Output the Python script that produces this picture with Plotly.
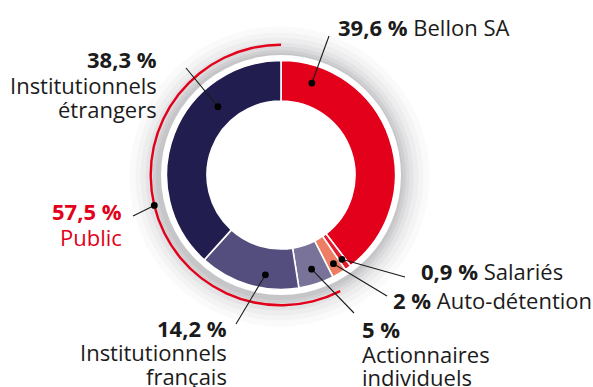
import math
import plotly.graph_objects as go

# Shareholding structure
holders = ["Bellon SA", "Salariés", "Auto-détention", "Actionnaires individuels",
           "Institutionnels français", "Institutionnels étrangers"]
shares = [39.6, 0.9, 2.0, 5.0, 14.2, 38.3]
share_text = ["39,6 %", "0,9 %", "2 %", "5 %", "14,2 %", "38,3 %"]
public_holders = ["Actionnaires individuels", "Institutionnels français", "Institutionnels étrangers"]
public_text = "57,5 %"

colors = ["#e2001a", "#e51b2c", "#ee7e63", "#7a7399", "#544e7e", "#211d4f"]
RED = "#e2001a"
INK = "#1b1b1b"
FONT = "Open Sans"

W, H = 593, 387
CX, CY = 281, 175          # donut centre (px)
R_OUT, R_IN = 114.5, 74    # donut radii (px)


def domain(r, cx=CX, cy=CY):
    return dict(x=[(cx - r) / W, (cx + r) / W], y=[1 - (cy + r) / H, 1 - (cy - r) / H])


def px(x):
    return x / W


def py(y):
    return 1 - y / H


def polar(angle_deg, r):
    a = math.radians(angle_deg)
    return CX + r * math.sin(a), CY - r * math.cos(a)


fig = go.Figure()


def disc(r, color, cx=CX, cy=CY):
    fig.add_trace(go.Pie(values=[1], marker=dict(colors=[color], line=dict(width=0)),
                         domain=domain(r, cx, cy), textinfo="none", hoverinfo="skip",
                         sort=False, showlegend=False))


# soft grey shadow, stacked discs from the outside in, slightly offset to the lower left
shadow = [(150, "#fafafa"), (144, "#f4f4f5"), (139, "#ededee"), (134, "#e4e4e6"),
          (130, "#dadadc"), (126.5, "#cfcfd2"), (123.5, "#c6c6c9")]
for r, c in shadow:
    disc(r, c, CX - 1.5, CY + 1.5)
# white gap between shadow and donut
disc(120, "white")

# red arc spanning the public float
public_share = sum(s for h, s in zip(holders, shares) if h in public_holders)
R_ARC = 131.5
fig.add_trace(go.Pie(values=[100 - public_share, public_share],
                     marker=dict(colors=["rgba(0,0,0,0)", RED], line=dict(width=0)),
                     hole=(R_ARC - 2.4) / R_ARC, domain=domain(R_ARC), direction="clockwise",
                     rotation=0, sort=False, textinfo="none", hoverinfo="skip", showlegend=False))

# main donut
fig.add_trace(go.Pie(labels=holders, values=shares, hole=R_IN / R_OUT, domain=domain(R_OUT),
                     marker=dict(colors=colors, line=dict(color="white", width=1.6)),
                     direction="clockwise", rotation=0, sort=False, textinfo="none",
                     hoverinfo="skip", showlegend=False))

# angular span of each slice (degrees, clockwise from 12 o'clock)
spans = []
acc = 0.0
for s in shares:
    start = acc / 100 * 360
    acc += s
    spans.append((start, acc / 100 * 360))

# where each leader line meets its slice: fraction through the slice, radius
dot_pos = [(0.13, 97), (0.5, 104), (0.5, 103), (0.5, 99), (0.35, 101), (0.69, 93)]
# far end of each leader line (px)
leader_end = [(329, 36), (405, 277), (387, 296), (354, 313), (236, 324), (186, 68)]

shapes = []
DOT = 3.4


def add_leader(x0, y0, x1, y1):
    shapes.append(dict(type="line", xref="paper", yref="paper", x0=px(x0), y0=py(y0),
                       x1=px(x1), y1=py(y1), line=dict(color=INK, width=1.1)))
    shapes.append(dict(type="circle", xref="paper", yref="paper",
                       x0=px(x0 - DOT), x1=px(x0 + DOT), y0=py(y0 + DOT), y1=py(y0 - DOT),
                       fillcolor="black", line=dict(width=0)))


for (a0, a1), (f, r), (ex, ey) in zip(spans, dot_pos, leader_end):
    dx, dy = polar(a0 + f * (a1 - a0), r)
    add_leader(dx, dy, ex, ey)

# public marker at the middle of the red arc
pub_start = 360 - public_share / 100 * 360
dx, dy = polar((pub_start + 360) / 2, R_ARC - 1.2)
add_leader(dx, dy, 133, 216)

# text labels: (html, x, baseline, anchor, colour)
FS = 22
lines = [
    (f"<b>{share_text[0]}</b> {holders[0]}", 337, 35.5, "left", INK),
    (f"<b>{share_text[5]}</b>", 158, 67, "right", INK),
    ("Institutionnels", 158, 93, "right", INK),
    ("étrangers", 158, 117, "right", INK),
    (f"<b>{public_text}</b>", 123, 219, "right", RED),
    ("Public", 123, 245, "right", RED),
    (f"<b>{share_text[4]}</b>", 228, 336, "right", INK),
    ("Institutionnels", 228, 360, "right", INK),
    ("français", 228, 384, "right", INK),
    (f"<b>{share_text[3]}</b>", 361, 337, "left", INK),
    ("Actionnaires", 361, 362, "left", INK),
    ("individuels", 361, 385, "left", INK),
    (f"<b>{share_text[2]}</b> {holders[2]}", 392, 308, "left", INK),
    (f"<b>{share_text[1]}</b> {holders[1]}", 420, 279, "left", INK),
]
annotations = []
for text, x, base, anchor, col in lines:
    annotations.append(dict(text=text, x=px(x), y=py(base - 0.386 * FS), xref="paper", yref="paper",
                            xanchor=anchor, yanchor="middle", showarrow=False, borderpad=0,
                            font=dict(family=FONT, size=FS, color=col)))

fig.update_layout(width=W, height=H, margin=dict(l=0, r=0, t=0, b=0),
                  paper_bgcolor="white", plot_bgcolor="white",
                  shapes=shapes, annotations=annotations, showlegend=False)

fig.write_html("out.html")
